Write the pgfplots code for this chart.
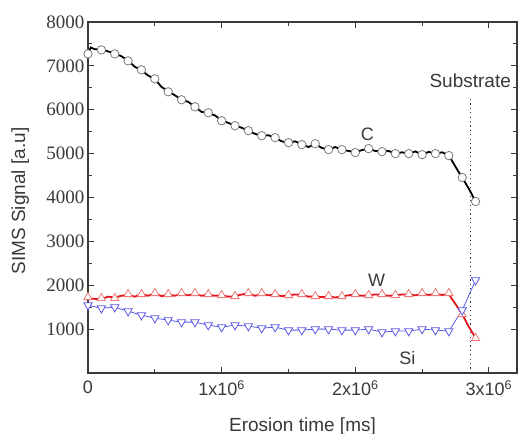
\documentclass[border=0pt]{standalone}
\usepackage{pgfplots}
\pgfplotsset{compat=1.18}
\usepackage{fontspec}
\setmainfont{Liberation Sans}
\newfontfamily\serifnum{Liberation Serif}
\definecolor{axgray}{HTML}{3A3A3A}
\definecolor{wred}{HTML}{E3141C}
\definecolor{wmark}{HTML}{F07A7A}
\definecolor{siblue}{HTML}{5A5AE6}
\definecolor{cmark}{HTML}{7A7A7A}

% marker values every 0.1x10^6 ms
\pgfplotstableread{
x C W Si
0.0 7273 1727 1545
0.1 7364 1705 1477
0.2 7273 1705 1500
0.3 7114 1795 1409
0.4 6909 1795 1318
0.5 6705 1818 1250
0.6 6409 1795 1205
0.7 6227 1818 1159
0.8 6068 1818 1159
0.9 5932 1795 1091
1.0 5750 1773 1045
1.1 5636 1750 1091
1.2 5523 1818 1068
1.3 5409 1818 1023
1.4 5364 1795 1045
1.5 5250 1773 977
1.6 5205 1795 977
1.7 5227 1750 1000
1.8 5091 1750 1000
1.9 5091 1750 977
2.0 5023 1795 977
2.1 5114 1773 1000
2.2 5045 1795 932
2.3 5000 1773 955
2.4 5000 1795 955
2.5 4977 1818 1000
2.6 5000 1818 977
2.7 4955 1818 955
2.8 4455 1341 1432
2.9 3909 795 2114
}\marks

% raw signal (denser, noisy)
\pgfplotstableread{
x C W
0.00 7300 1720
0.02 7420 1700
0.05 7380 1690
0.10 7380 1680
0.15 7330 1740
0.20 7280 1720
0.25 7220 1760
0.30 7120 1780
0.35 6980 1740
0.40 6900 1800
0.45 6780 1760
0.50 6700 1820
0.55 6520 1750
0.60 6420 1790
0.65 6330 1760
0.70 6230 1810
0.75 6180 1770
0.80 6070 1800
0.85 5950 1760
0.90 5930 1790
0.95 5870 1760
1.00 5760 1770
1.05 5700 1740
1.10 5640 1750
1.15 5590 1790
1.20 5520 1810
1.25 5450 1760
1.30 5400 1800
1.35 5420 1770
1.40 5360 1790
1.45 5280 1750
1.50 5250 1770
1.55 5280 1790
1.60 5210 1780
1.65 5150 1740
1.70 5220 1750
1.75 5130 1730
1.80 5090 1750
1.85 5150 1720
1.90 5090 1750
1.95 5060 1770
2.00 5030 1790
2.05 5080 1760
2.10 5110 1770
2.15 5060 1790
2.20 5050 1780
2.25 5060 1760
2.30 5000 1770
2.35 5030 1790
2.40 5000 1790
2.45 5050 1770
2.50 4980 1800
2.55 5040 1780
2.60 5000 1800
2.65 5030 1780
2.70 4960 1790
2.75 4700 1570
2.80 4450 1340
2.85 4200 1050
2.90 3910 800
}\raw

\begin{document}
\begin{tikzpicture}
\begin{axis}[
  width=429pt, height=351pt, scale only axis,
  xmin=0, xmax=3.21, ymin=0, ymax=8000,
  axis line style={axgray, line width=1.3pt},
  every tick/.style={axgray, line width=1.1pt},
  tick align=inside,
  major tick length=6pt, minor tick length=4pt,
  xtick={0,1,2,3},
  xticklabels={0,1x10\textsuperscript{6},2x10\textsuperscript{6},3x10\textsuperscript{6}},
  minor x tick num=1,
  ytick={1000,2000,3000,4000,5000,6000,7000,8000},
  yticklabels={1000,2000,3000,4000,5000,6000,7000,8000},
  minor y tick num=1,
  x tick label style={font=\fontsize{18}{18}\selectfont, text=axgray, yshift=-4pt},
  y tick label style={font=\serifnum\fontsize{19}{19}\selectfont, text=axgray},
  xlabel={Erosion time [ms]},
  ylabel={SIMS Signal [a.u]},
  xlabel style={at={(axis description cs:0.5,-0.152)}, anchor=center, font=\fontsize{19}{19}\selectfont, text=axgray},
  ylabel style={at={(axis description cs:-0.158,0.49)}, anchor=center, font=\fontsize{19}{19}\selectfont, text=axgray},
  clip=false,
]
% substrate boundary
\addplot[axgray, line width=1.3pt, dash pattern=on 1.2pt off 3.2pt] coordinates {(2.86,0) (2.86,6270)};
% Si
\addplot[siblue, line width=0.8pt] table[x=x, y=Si] {\marks};
% W
\addplot[wred, line width=1.8pt] table[x=x, y=W] {\raw};
% C
\addplot[black, line width=1.8pt] table[x=x, y=C] {\raw};
% markers
\addplot[only marks, mark=triangle*, mark size=4.8pt,
  mark options={draw=wmark, fill=white, line width=0.8pt}] table[x=x, y=W] {\marks};
\addplot[only marks, mark=triangle*, mark size=4.8pt,
  mark options={draw=siblue, fill=white, line width=0.8pt, rotate=180}] table[x=x, y=Si] {\marks};
\addplot[only marks, mark=*, mark size=4.2pt,
  mark options={draw=cmark, fill=white, line width=0.8pt}] table[x=x, y=C] {\marks};
\node[font=\fontsize{18}{18}\selectfont, text=axgray] at (axis cs:2.09,5450) {C};
\node[font=\fontsize{18}{18}\selectfont, text=axgray] at (axis cs:2.16,2110) {W};
\node[font=\fontsize{18}{18}\selectfont, text=axgray] at (axis cs:2.39,350) {Si};
\node[font=\fontsize{19}{19}\selectfont, text=axgray] at (axis cs:2.86,6660) {Substrate};
\coordinate (ll) at (rel axis cs:0,0);
\coordinate (ur) at (rel axis cs:1,1);
\end{axis}
\pgfresetboundingbox
\path[use as bounding box] ([shift={(-88pt,-61pt)}]ll) rectangle ([shift={(1pt,22pt)}]ur);
\end{tikzpicture}
\end{document}
